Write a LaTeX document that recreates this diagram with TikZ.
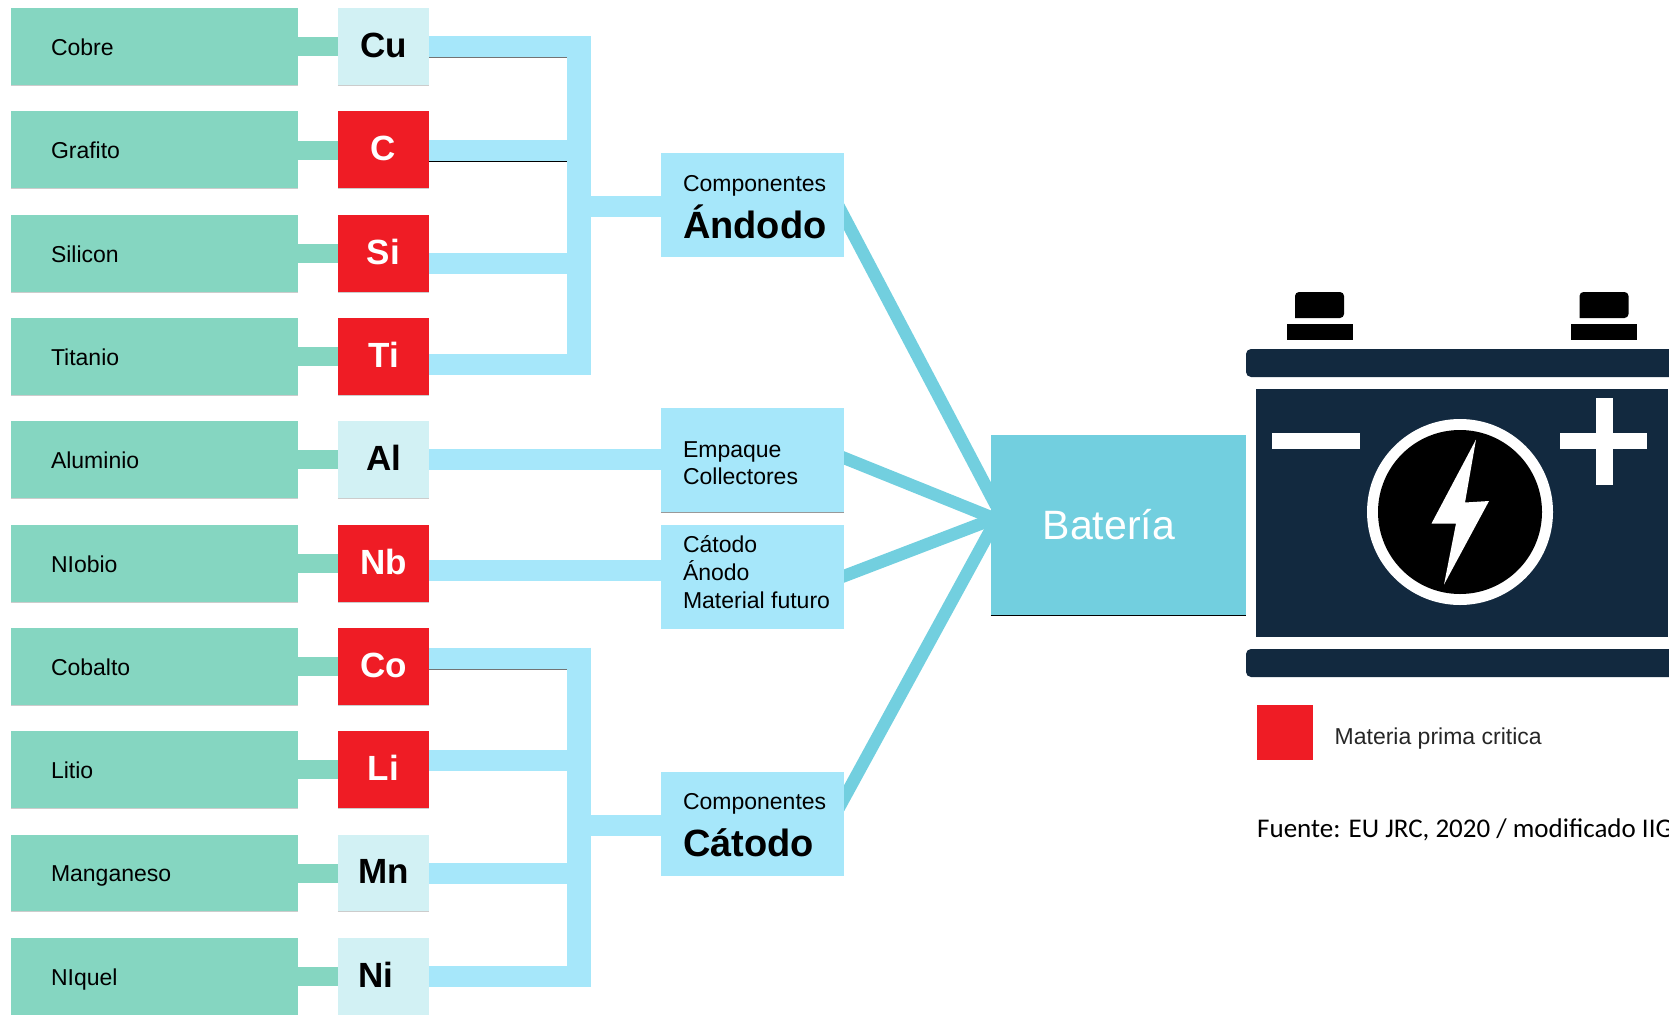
\documentclass[tikz,border=0pt]{standalone}
\usepackage{fontspec}
\setmainfont{Liberation Sans}
\newfontfamily\srcfont{Carlito}
\usetikzlibrary{positioning, calc, backgrounds}
\definecolor{rowgreen}{HTML}{85D6C1}
\definecolor{celllight}{HTML}{D2F1F4}
\definecolor{cellred}{HTML}{EF1C25}
\definecolor{busblue}{HTML}{A6E7FA}
\definecolor{feedteal}{HTML}{72CFDF}
\definecolor{navy}{HTML}{12293F}
\newcommand{\fs}[1]{\fontsize{#1}{#1}\selectfont}
\newcommand{\lowered}[2]{\smash{\raisebox{-#1pt}{#2}}}
\tikzset{
  rowbox/.style={fill=rowgreen, minimum width=287pt, minimum height=77pt, inner sep=0pt,
    inner xsep=40pt, text width=207pt, align=flush left, font=\fs{23}, text height=20pt, text depth=3pt},
  elem/.style={minimum width=91pt, minimum height=77pt, inner sep=0pt, font=\bfseries\fs{35}},
  partbox/.style={fill=busblue, minimum width=183pt, minimum height=104pt, inner sep=0pt,
    inner xsep=22pt, text width=139pt, align=flush left, font=\fontsize{23}{27.7}\selectfont},
  stub/.style={rowgreen, line width=19pt},
  bus/.style={busblue, line width=21pt, line join=miter},
  spine/.style={busblue, line width=24pt},
  feed/.style={feedteal, line width=12.5pt, shorten <=-12pt, shorten >=-12pt},
  shade/.style={black!55, line width=0.8pt},
  softedge/.style={black!20, line width=1pt},
  batt/.style={navy}
}
\begin{document}
\begin{tikzpicture}[x=1pt, y=-1pt]
\useasboundingbox (0,0) rectangle (1669,1014);
\clip (0,0) rectangle (1669,1014);
% material rows and element cells
\foreach \y/\id/\mat/\sym/\col/\txt in {
  47/cu/Cobre/Cu/celllight/black, 150/c/Grafito/C/cellred/white, 253.5/si/Silicon/Si/cellred/white,
  356.5/ti/Titanio/Ti/cellred/white, 459.5/al/Aluminio/Al/celllight/black, 563.5/nb/NIobio/Nb/cellred/white,
  666.5/co/Cobalto/Co/cellred/white, 769.5/li/Litio/Li/cellred/white, 873/mn/Manganeso/Mn/celllight/black,
  976.5/ni/NIquel/{Ni\kern15pt}/celllight/black}{
  \node[rowbox] (\id row) at (154.5,\y) {\mat};
  \node[elem, fill=\col, text=\txt] (\id) at (383.5,\y) {\raisebox{3pt}{\sym}};
  \draw[softedge] (\id row.south west) -- (\id row.south east);
  \draw[softedge] (\id.south west) -- (\id.south east);
  \begin{scope}[on background layer]
    \draw[stub] (\id row.east) -- (\id.west);
  \end{scope}
}
% parts
\node[partbox] (anodo) at (752.5,205) {\lowered{9.5}{Componentes}\\[19.3pt]\lowered{9.5}{\bfseries\fs{38}Ándodo}};
\node[partbox] (empaque) at (752.5,460) {\lowered{11}{Empaque}\\\lowered{11}{Collectores}};
\node[partbox] (mezcla) at (752.5,577) {\lowered{3.6}{Cátodo}\\\lowered{3.6}{Ánodo}\\\lowered{3.6}{Material~futuro}};
\node[partbox] (catodo) at (752.5,824) {\lowered{8.8}{Componentes}\\[19.3pt]\lowered{8.8}{\bfseries\fs{38}Cátodo}};
\node[fill=feedteal, text=white, minimum width=255.5pt, minimum height=180pt, inner sep=0pt,
  inner xsep=52pt, text width=151.5pt, align=flush left, font=\fs{41}] (bateria) at (1118.5,525) {Batería};
% anode bus
\coordinate (antop) at (579,47);
\coordinate (anbot) at (579,364.5);
\coordinate (anjoin) at (579,206.5);
\begin{scope}[on background layer]
\draw[bus] (cu.east) -- (cu.east-|anbot);
\draw[bus] (c.east) -- (c.east-|anbot);
\draw[bus] (si.east|-{0,263.5}) -- (anbot|-{0,263.5});
\draw[bus] (ti.east|-anbot) -- (anbot);
\draw[spine] ($(antop)+(0,-10.5)$) -- ($(anbot)+(0,10.5)$);
\draw[bus] (anjoin) -- (anodo.west|-anjoin);
% cathode bus
\coordinate (catop) at (579,658);
\coordinate (cabot) at (579,976.5);
\coordinate (cajoin) at (579,825.5);
\draw[bus] (co.east|-catop) -- (catop);
\draw[bus] (li.east|-{0,760}) -- (catop|-{0,760});
\draw[bus] (mn.east) -- (mn.east-|cabot);
\draw[bus] (ni.east) -- (cabot);
\draw[spine] ($(catop)+(0,-10.5)$) -- ($(cabot)+(0,10.5)$);
\draw[bus] (cajoin) -- (catodo.west|-cajoin);
% single buses
\draw[bus] (al.east) -- (al.east-|empaque.west);
\draw[bus] (nb.east|-{0,570.5}) -- (mezcla.west|-{0,570.5});
% feeds into the battery
\coordinate (hub) at (bateria.west);
\draw[feed] ($(anodo.east)+(0,12)$) -- ($(hub)+(0,-30)$);
\draw[feed] ($(empaque.east)+(0,-2)$) -- ($(hub)+(0,-8)$);
\draw[feed] ($(mezcla.east)+(0,-1)$) -- ($(hub)+(0,-5)$);
\draw[feed] ($(catodo.east)+(0,-26)$) -- ($(hub)+(0,5)$);
\end{scope}
% dark edge lines
\draw[shade] (cu.east|-{0,57.5}) -- (567,57.5);
\draw[shade, black] (c.east|-{0,161}) -- (567,161);
\draw[shade] (co.east|-{0,669}) -- (567,669);
\draw[shade, black!40] (empaque.south west) -- (empaque.south east);
\draw[shade, black] (bateria.south west) -- (bateria.south east);
% battery
\fill[batt, rounded corners=5pt] (1246,349) rectangle (1700,377);
\fill[batt, rounded corners=5pt] (1246,649) rectangle (1700,677);
\fill[batt] (1256,389) rectangle (1667.7,637);
\foreach \x in {1319.5,1604}{
  \fill[black, rounded corners=4pt] (\x-24.5,318) -- (\x-24.5,292) -- (\x+24.5,292) -- (\x+24.5,318) [sharp corners] -- cycle;
  \fill[black] (\x-33,323.5) rectangle (\x+33,339.5);
}
\fill[white] (1272,433) rectangle (1360,449);
\fill[white] (1560,432.5) rectangle (1647,449);
\fill[white] (1595.5,398) rectangle (1612.5,484.5);
\fill[white] (1460,512) circle (93);
\fill[black] (1460,512) circle (82);
\fill[white] (1476,439.5) -- (1431.5,523.5) -- (1456,523.5) -- (1444,584.5) -- (1489,501) -- (1465,502.5) -- cycle;
% legend
\node[fill=cellred, minimum width=55.5pt, minimum height=55.5pt, inner sep=0pt] (legbox) at (1285,732.5) {};
\node[right=21.5pt of legbox, yshift=-6pt, inner sep=0pt, font=\fs{23}, text=black!85] (legtext) {Materia prima critica};
\node[anchor=west, inner sep=0pt, font=\srcfont\fs{27}] (fuente) at (1257,830) {Fuente: EU JRC, 2020 / modificado IIGE};
\end{tikzpicture}
\end{document}
